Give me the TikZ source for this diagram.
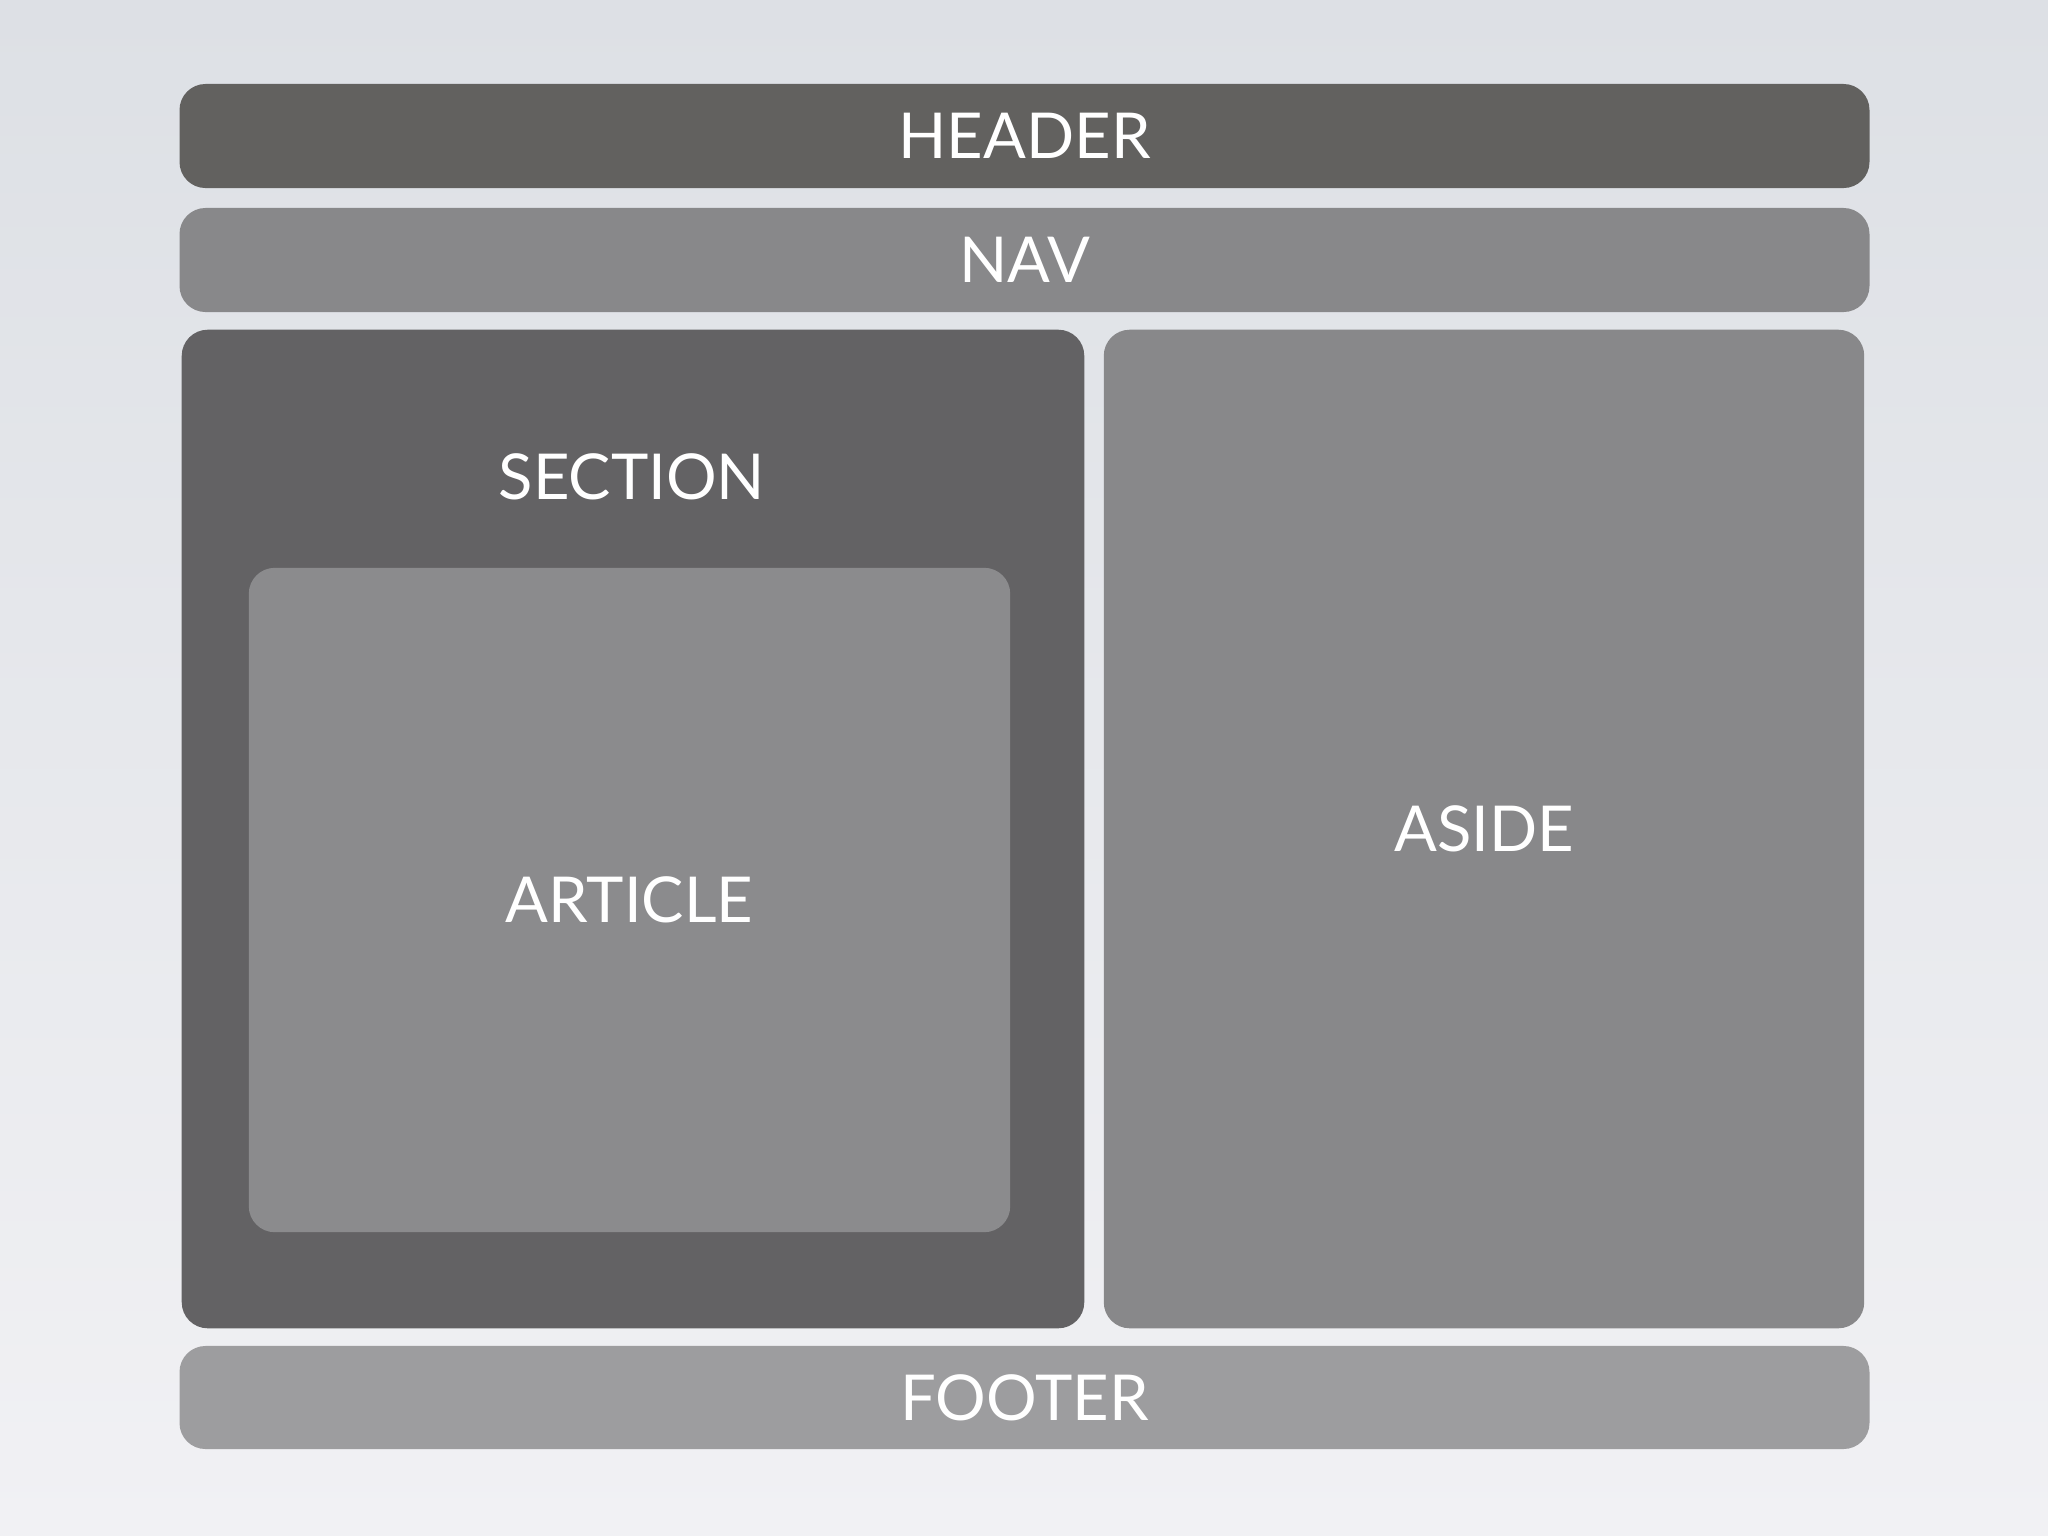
\documentclass[tikz,border=0pt]{standalone}
\usepackage{fontspec}
\setmainfont{Lato}
\usepackage{tikz}
\usepackage{color}

\definecolor{bgtop}{HTML}{DDE0E5}
\definecolor{bgbot}{HTML}{F1F1F4}
\definecolor{headbox}{HTML}{62615F}
\definecolor{darkbox}{HTML}{636264}
\definecolor{midbox}{HTML}{88888A}
\definecolor{artbox}{HTML}{8B8B8D}
\definecolor{footbox}{HTML}{9D9D9F}

\tikzset{
  block/.style={rounded corners=0.26cm, inner sep=0pt, text=white,
    font=\fontsize{18}{20}\selectfont},
  label/.style={text=white, inner sep=0pt, font=\fontsize{18}{20}\selectfont}
}

\begin{document}
\begin{tikzpicture} [x=0.01cm, y=-0.01cm]
\shade [top color=bgtop, bottom color=bgbot] (0,0) rectangle (2048,1536);
\node [block, fill=headbox, minimum width=16.89cm, minimum height=1.04cm] (header) at (1024.5,136) {HEADER};
\node [block, fill=midbox, minimum width=16.89cm, minimum height=1.04cm] (nav) at (1024.5,260) {NAV};
\node [block, fill=darkbox, minimum width=9.02cm, minimum height=9.98cm] (section) at (633,829) {};
\node [block, fill=midbox, minimum width=7.60cm, minimum height=9.98cm] (aside) at (1484,829) {ASIDE};
\node [block, fill=artbox, minimum width=7.61cm, minimum height=6.64cm] (article) at (629.5,900) {ARTICLE};
\node [label] (sectionlabel) at (632,477) {SECTION};
\node [block, fill=footbox, minimum width=16.89cm, minimum height=1.03cm] (footer) at (1024.5,1397.5) {FOOTER};
\end{tikzpicture}
\end{document}
